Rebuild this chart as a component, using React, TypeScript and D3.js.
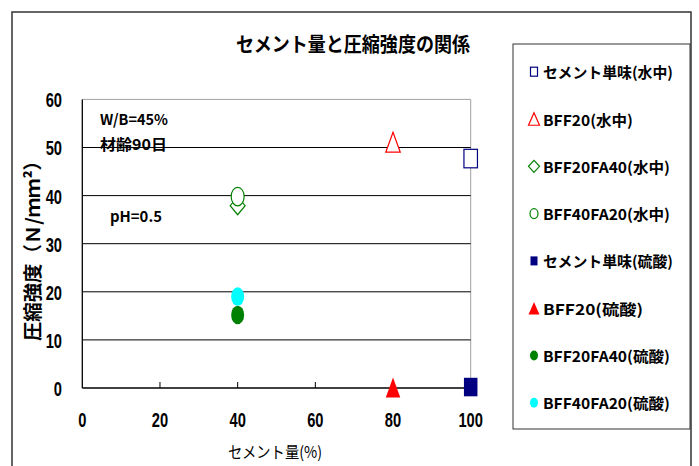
import React from "react";
import * as d3 from "d3";

const W = 699;
const H = 466;

const seriesNames = [
  "セメント単味(水中)",
  "BFF20(水中)",
  "BFF20FA40(水中)",
  "BFF40FA20(水中)",
  "セメント単味(硫酸)",
  "BFF20(硫酸)",
  "BFF20FA40(硫酸)",
  "BFF40FA20(硫酸)",
];
const seriesX = [100, 80, 40, 40, 100, 80, 40, 40];
const seriesY = [47.7, 51.1, 37.9, 39.8, 0.2, 0.1, 15.2, 19.0];
const seriesShape = ["square", "triangle", "diamond", "circle", "square", "triangle", "circle", "circle"];
const seriesColor = ["#000080", "#ff0000", "#008000", "#008000", "#000080", "#ff0000", "#008000", "#00ffff"];
const seriesFilled = [false, false, false, false, true, true, true, true];
const legendWidths = [130, 90, 127, 127, 130, 100, 127, 127];

const xTicks = [0, 20, 40, 60, 80, 100];
const yTicks = [0, 10, 20, 30, 40, 50, 60];

const numFont = "'Liberation Sans', Arial, sans-serif";
const jpFont = "'Noto Sans CJK JP', 'Noto Sans', sans-serif";

function Marker({ shape, cx, cy, w, h, color, filled }: any) {
  const fill = filled ? color : "#ffffff";
  const sw = filled ? 0.01 : 1.2;
  if (shape === "square")
    return <rect x={cx - w / 2} y={cy - h / 2} width={w} height={h} fill={fill} stroke={color} strokeWidth={sw} />;
  if (shape === "circle")
    return <ellipse cx={cx} cy={cy} rx={w / 2} ry={h / 2} fill={fill} stroke={color} strokeWidth={sw} />;
  if (shape === "triangle")
    return (
      <path
        d={`M${cx},${cy - h / 2}L${cx + w / 2},${cy + h / 2}L${cx - w / 2},${cy + h / 2}Z`}
        fill={fill}
        stroke={color}
        strokeWidth={sw}
      />
    );
  return (
    <path
      d={`M${cx},${cy - h / 2}L${cx + w / 2},${cy}L${cx},${cy + h / 2}L${cx - w / 2},${cy}Z`}
      fill={fill}
      stroke={color}
      strokeWidth={sw}
    />
  );
}

const bigSize: Record<string, [number, number]> = {
  square: [13.5, 18.5],
  triangle: [14.5, 20],
  diamond: [15, 18],
  circle: [13, 18.5],
};
const smallSize: Record<string, [number, number]> = {
  square: [7, 9],
  triangle: [11, 12.5],
  diamond: [11, 12],
  circle: [8, 10],
};

function Num({ x, y, anchor, children }: any) {
  return (
    <g transform={`translate(${x},${y}) scale(0.7,1)`}>
      <text
        x={0}
        y={0}
        textAnchor={anchor}
        dominantBaseline="central"
        fontFamily={numFont}
        fontWeight="bold"
        fontSize={21}
        fill="#000"
      >
        {children}
      </text>
    </g>
  );
}

export default function App() {
  const x = d3.scaleLinear().domain([0, 100]).range([82.3, 470.7]);
  const y = d3.scaleLinear().domain([0, 60]).range([388, 99.4]);
  const [x0, x1] = x.range();
  const [y0, y1] = y.range();

  return (
    <svg
      width={W}
      height={H}
      style={{ position: "absolute", left: 0, top: 0, display: "block", background: "#fff" }}
    >
      <rect x={0} y={0} width={W} height={H} fill="#fff" />
      {/* outer frame */}
      <rect x={12} y={12} width={679} height={480} fill="none" stroke="#333" strokeWidth={1.5} />

      {/* title */}
      <text
        x={236}
        y={43}
        dominantBaseline="central"
        fontFamily={jpFont}
        fontWeight="bold"
        fontSize={20}
        textLength={234}
        lengthAdjust="spacingAndGlyphs"
        fill="#000"
      >
        セメント量と圧縮強度の関係
      </text>

      {/* plot area */}
      <rect x={x0} y={y1} width={x1 - x0} height={y0 - y1} fill="#fff" />
      <line x1={x0} x2={x1} y1={y1} y2={y1} stroke="#a0a0a0" strokeWidth={1} />
      <line x1={x1} x2={x1} y1={y1} y2={y0} stroke="#a0a0a0" strokeWidth={1} />
      {yTicks
        .filter((t) => t > 0 && t < 60)
        .map((t) => (
          <line key={t} x1={x0} x2={x1} y1={y(t)} y2={y(t)} stroke="#000" strokeWidth={1} />
        ))}
      {xTicks
        .filter((t) => t > 0 && t < 100)
        .map((t) => (
          <line key={t} x1={x(t)} x2={x(t)} y1={y0} y2={y0 - 6} stroke="#000" strokeWidth={1} />
        ))}
      <line x1={x0} x2={x0} y1={y1} y2={y0} stroke="#000" strokeWidth={1.3} />
      <line x1={x0} x2={x1} y1={y0} y2={y0} stroke="#000" strokeWidth={1.3} />

      {/* y tick labels */}
      {yTicks.map((t) => (
        <Num key={t} x={62} y={y(t) + 1} anchor="end">
          {t}
        </Num>
      ))}
      {/* x tick labels */}
      {xTicks.map((t) => (
        <Num key={t} x={x(t)} y={420} anchor="middle">
          {t}
        </Num>
      ))}

      {/* axis titles */}
      <text
        x={228}
        y={451}
        dominantBaseline="central"
        fontFamily={jpFont}
        fontSize={16}
        textLength={94}
        lengthAdjust="spacingAndGlyphs"
        fill="#000"
      >
        セメント量(%)
      </text>
      <text
        transform={`translate(31,341) rotate(-90)`}
        dominantBaseline="central"
        fontFamily={jpFont}
        fontWeight="bold"
        fontSize={19}
        textLength={190}
        lengthAdjust="spacingAndGlyphs"
        fill="#000"
      >
        圧縮強度（Ｎ/ｍｍ²）
      </text>

      {/* annotations */}
      <text x={100} y={118} dominantBaseline="central" fontFamily={jpFont} fontWeight="bold" fontSize={15} textLength={68} lengthAdjust="spacingAndGlyphs">
        W/B=45%
      </text>
      <text x={100} y={143.5} dominantBaseline="central" fontFamily={jpFont} fontWeight="bold" fontSize={15} textLength={67} lengthAdjust="spacingAndGlyphs">
        材齢90日
      </text>
      <text x={110} y={215} dominantBaseline="central" fontFamily={jpFont} fontWeight="bold" fontSize={15} textLength={52} lengthAdjust="spacingAndGlyphs">
        pH=0.5
      </text>

      {/* markers */}
      {seriesNames.map((n, i) => {
        const [w, h] = bigSize[seriesShape[i]];
        return (
          <Marker
            key={n}
            shape={seriesShape[i]}
            cx={x(seriesX[i])}
            cy={y(seriesY[i])}
            w={w}
            h={h}
            color={seriesColor[i]}
            filled={seriesFilled[i]}
          />
        );
      })}

      {/* legend */}
      <rect x={513} y={44} width={177} height={385} fill="#fff" stroke="#333" strokeWidth={1} />
      {seriesNames.map((n, i) => {
        const cy = 71.7 + i * 47.3;
        const [w, h] = smallSize[seriesShape[i]];
        return (
          <g key={n}>
            <Marker shape={seriesShape[i]} cx={534} cy={cy} w={w} h={h} color={seriesColor[i]} filled={seriesFilled[i]} />
            <text
              x={543}
              y={cy}
              dominantBaseline="central"
              fontFamily={jpFont}
              fontWeight="bold"
              fontSize={15}
              textLength={legendWidths[i]}
              lengthAdjust="spacingAndGlyphs"
              fill="#000"
            >
              {n}
            </text>
          </g>
        );
      })}
    </svg>
  );
}
